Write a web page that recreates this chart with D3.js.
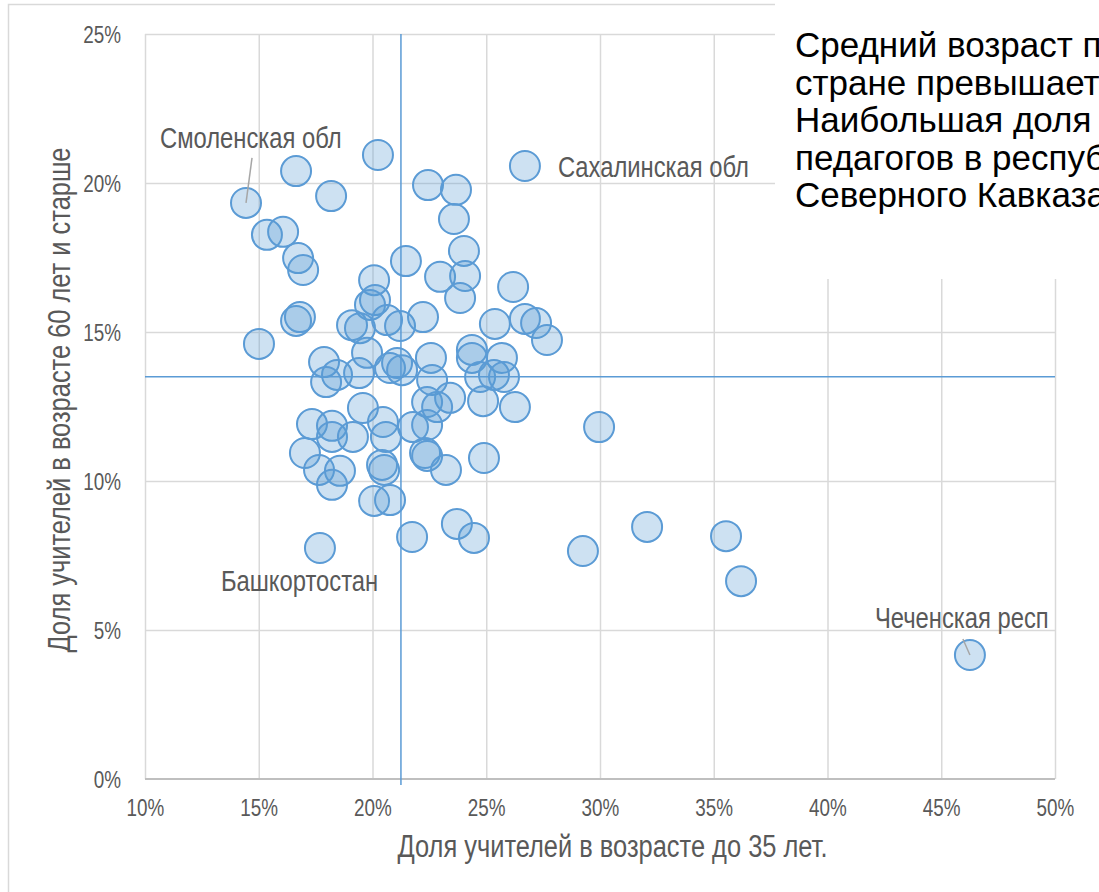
<!DOCTYPE html>
<html>
<head>
<meta charset="utf-8">
<script src="https://cdn.jsdelivr.net/npm/d3@7"></script>
<style>
  body { margin: 0; background: #fff; overflow: hidden; }
</style>
</head>
<body>
<svg id="chart"></svg>
<script>
// share of teachers under 35 (x) and 60+ (y), in percent, one entry per region
const youngShare = [
  14.44, 16.64, 18.18, 20.24, 15.36, 16.07, 16.73, 16.95, 21.47, 22.44,
  23.67, 23.58, 24.02, 26.70, 20.07, 20.11, 19.89, 22.97, 24.07, 23.85,
  26.18, 16.64, 16.81, 15.01, 19.10, 19.45, 20.64, 21.21, 22.22, 25.38,
  26.70, 27.19, 27.67, 17.87, 18.44, 17.96, 19.41, 19.76, 21.08, 20.77,
  21.30, 22.57, 22.62, 24.37, 24.37, 25.69, 24.73, 25.34, 25.78, 24.86,
  26.26, 19.58, 22.40, 23.41, 22.84, 29.96, 17.34, 18.22, 18.22, 19.14,
  20.46, 20.59, 21.78, 22.40, 17.03, 17.65, 18.57, 18.22, 20.42, 20.51,
  22.31, 22.40, 23.23, 24.90, 20.07, 20.77, 17.69, 21.74, 23.71, 24.46,
  29.25, 32.07, 35.54, 36.20, 46.26
];
const oldShare = [
  19.33, 20.40, 19.56, 20.94, 18.26, 18.36, 17.48, 17.08, 17.38, 19.93,
  19.77, 18.79, 17.72, 20.57, 16.74, 16.07, 15.91, 16.85, 16.88, 16.14,
  16.51, 15.37, 15.50, 14.60, 15.23, 15.13, 15.40, 15.20, 15.50, 15.27,
  15.44, 15.30, 14.73, 13.99, 13.56, 13.32, 13.62, 14.30, 13.96, 13.79,
  13.72, 14.13, 13.39, 14.40, 14.13, 14.13, 13.49, 13.56, 13.49, 12.68,
  12.48, 12.45, 12.65, 12.79, 12.48, 11.81, 11.91, 11.85, 11.48, 11.48,
  11.98, 11.48, 11.81, 11.88, 10.94, 10.37, 10.34, 9.87, 10.54, 10.37,
  10.94, 10.84, 10.37, 10.77, 9.33, 9.36, 7.75, 8.12, 8.56, 8.09,
  7.65, 8.46, 8.15, 6.64, 4.16
];
const meanYoung = 21.25;
const meanOld = 13.5;

const xTicks = [10, 15, 20, 25, 30, 35, 40, 45, 50];
const yTicks = [0, 5, 10, 15, 20, 25];

const labelNames = ['Смоленская обл', 'Сахалинская обл', 'Башкортостан', 'Чеченская респ'];
const labelIndex = [0, 13, 76, 84];

const noteLines = [
  'Средний возраст п',
  'стране превышает',
  'Наибольшая доля',
  'педагогов в респуб',
  'Северного Кавказа'
];

const width = 1099;
const height = 892;
const plotLeft = 145, plotRight = 1055, plotTop = 34, plotBottom = 779;
const sans = '"Liberation Sans", Arial, sans-serif';
const grey = '#595959';

// squeeze text horizontally, like Arial Narrow
function condense(sel, k = 0.82) {
  sel.each(function () {
    const len = this.getComputedTextLength();
    d3.select(this)
      .attr('textLength', len * k)
      .attr('lengthAdjust', 'spacingAndGlyphs')
  })
}

const svg = d3.select('#chart')
  .attr('width', width)
  .attr('height', height)
  .style('display', 'block')

// chart frame
svg.append('rect')
  .attr('x', 8.5)
  .attr('y', 4.5)
  .attr('width', width + 20)
  .attr('height', height + 20)
  .style('fill', '#fff')
  .style('stroke', '#d9d9d9')
  .style('stroke-width', 1.5)

const x = d3.scaleLinear().domain([10, 50]).range([plotLeft, plotRight]);
const y = d3.scaleLinear().domain([0, 25]).range([plotBottom, plotTop]);

// gridlines
svg.append('g')
  .attr('transform', `translate(0, ${plotTop})`)
  .call(d3.axisBottom(x).tickValues(xTicks).tickSize(plotBottom - plotTop).tickFormat(''))
  .call(g => g.select('.domain').remove())
  .call(g => g.selectAll('line').style('stroke', '#d9d9d9').style('stroke-width', 1.5))

svg.append('g')
  .attr('transform', `translate(${plotLeft}, 0)`)
  .call(d3.axisRight(y).tickValues(yTicks.slice(1)).tickSize(plotRight - plotLeft).tickFormat(''))
  .call(g => g.select('.domain').remove())
  .call(g => g.selectAll('line').style('stroke', '#d9d9d9').style('stroke-width', 1.5))

// bottom axis line
svg.append('line')
  .attr('x1', plotLeft)
  .attr('x2', plotRight)
  .attr('y1', y(0))
  .attr('y2', y(0))
  .style('stroke', '#bfbfbf')
  .style('stroke-width', 2)

// tick labels
svg.append('g')
  .attr('transform', `translate(0, ${plotBottom})`)
  .call(d3.axisBottom(x).tickValues(xTicks).tickSize(0).tickPadding(0).tickFormat(d => d + '%'))
  .call(g => g.select('.domain').remove())
  .call(g => g.selectAll('text')
    .attr('y', 37)
    .attr('dy', null)
    .style('font-family', sans)
    .style('font-size', '23px')
    .style('fill', grey)
    .call(condense))

svg.append('g')
  .attr('transform', `translate(${plotLeft}, 0)`)
  .call(d3.axisLeft(y).tickValues(yTicks).tickSize(0).tickPadding(0).tickFormat(d => d + '%'))
  .call(g => g.select('.domain').remove())
  .call(g => g.selectAll('text')
    .attr('x', -24)
    .attr('dy', 8)
    .style('font-family', sans)
    .style('font-size', '23px')
    .style('fill', grey)
    .call(condense))

// axis titles
svg.append('text')
  .attr('x', (393 + 832) / 2)
  .attr('y', 857)
  .attr('text-anchor', 'middle')
  .style('font-family', sans)
  .style('font-size', '31px')
  .style('fill', grey)
  .text('Доля учителей в возрасте до 35 лет.')
  .call(condense)

svg.append('text')
  .attr('transform', `translate(70, ${(152 + 648) / 2}) rotate(-90)`)
  .attr('text-anchor', 'middle')
  .style('font-family', sans)
  .style('font-size', '31px')
  .style('fill', grey)
  .text('Доля учителей в возрасте 60 лет и старше')
  .call(condense)

// bubbles
const points = youngShare.map((v, i) => ({ young: v, old: oldShare[i] }));

svg.append('g')
  .selectAll('circle')
  .data(points)
  .enter()
  .append('circle')
  .attr('cx', d => x(d.young))
  .attr('cy', d => y(d.old))
  .attr('r', 15)
  .style('fill', 'rgba(91, 155, 213, 0.3)')
  .style('stroke', '#5b9bd5')
  .style('stroke-width', 2)

// average lines
svg.append('line')
  .attr('x1', x(meanYoung))
  .attr('x2', x(meanYoung))
  .attr('y1', plotTop)
  .attr('y2', plotBottom + 6)
  .style('stroke', '#5b9bd5')
  .style('stroke-width', 1.5)

svg.append('line')
  .attr('x1', plotLeft)
  .attr('x2', plotRight)
  .attr('y1', y(meanOld))
  .attr('y2', y(meanOld))
  .style('stroke', '#5b9bd5')
  .style('stroke-width', 1.5)

// data labels, offsets from their bubble
const labelOffset = [[-86, -55], [33, 11], [-99, 43], [-95, -27]];
const leader = [[6, -45], null, null, [-7, -16]];

labelIndex.forEach((idx, k) => {
  const px = x(youngShare[idx]);
  const py = y(oldShare[idx]);
  if (leader[k]) {
    svg.append('line')
      .attr('x1', px + leader[k][0])
      .attr('y1', py + leader[k][1])
      .attr('x2', px)
      .attr('y2', py)
      .style('stroke', '#a6a6a6')
      .style('stroke-width', 1.5)
  }
  svg.append('text')
    .attr('x', px + labelOffset[k][0])
    .attr('y', py + labelOffset[k][1])
    .style('font-family', sans)
    .style('font-size', '29px')
    .style('fill', grey)
    .text(labelNames[k])
    .call(condense)
});

// note box in the upper right
svg.append('rect')
  .attr('x', 775)
  .attr('y', 0)
  .attr('width', 400)
  .attr('height', 279)
  .style('fill', '#fff')

svg.append('g')
  .selectAll('text')
  .data(noteLines)
  .enter()
  .append('text')
  .attr('x', 795)
  .attr('y', (d, i) => 57 + i * 37.5)
  .style('font-family', sans)
  .style('font-size', '35px')
  .style('fill', '#000')
  .text(d => d)
</script>
</body>
</html>
